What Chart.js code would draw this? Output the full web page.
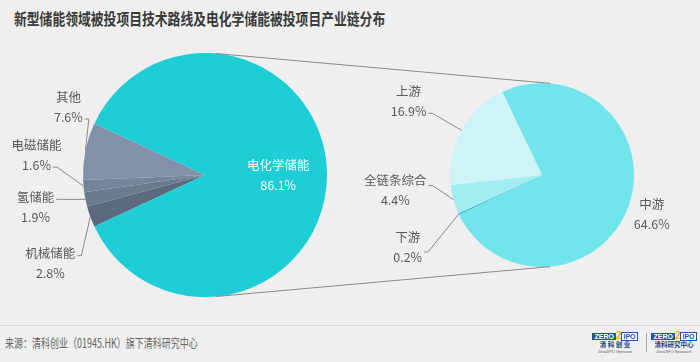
<!DOCTYPE html>
<html>
<head>
<meta charset="utf-8">
<script src="https://cdn.jsdelivr.net/npm/chart.js@4/dist/chart.umd.min.js"></script>
<style>
  body { margin: 0; background: #efefef; }
  #wrap { position: relative; width: 700px; height: 362px; overflow: hidden; background: #efefef;
          font-family: "Noto Sans CJK SC", "Noto Sans", sans-serif; }
  #title { position: absolute; left: 14px; top: 7px; font-size: 16px; line-height: 22px; font-weight: bold;
           color: #3a3a3a; white-space: nowrap; transform: scaleX(0.8); transform-origin: left center; }
  #sep { position: absolute; left: 0; top: 325px; width: 700px; height: 1px; background: #dadada; }
  #src { position: absolute; left: 5px; top: 334px; font-size: 12.5px; line-height: 18px; color: #666;
         white-space: nowrap; transform: scaleX(0.72); transform-origin: left center; }
  canvas { position: absolute; left: 0; top: 0; }
  .logo { position: absolute; top: 331px; width: 46px; text-align: center; font-family: "Liberation Sans", sans-serif; }
  .logo .top { height: 9px; white-space: nowrap; font-size: 7px; line-height: 9px; font-weight: bold; }
  .logo .z { background: #1f55a8; color: #fff; padding: 0 2px; }
  .logo .two { color: #f2b705; font-size: 10px; }
  .logo .ipo { color: #1f55a8; border: 1px solid #1f55a8; padding: 0 1px; background: #fff; }
  .logo .cn { font-family: "Noto Sans CJK SC", sans-serif; font-size: 6.5px; line-height: 9px; color: #1d3f7a; font-weight: bold; }
  .logo .en { font-size: 4px; line-height: 5px; color: #556; white-space: nowrap; }
  #div { position: absolute; left: 646px; top: 333px; width: 1px; height: 19px; background: #aaa; }
</style>
</head>
<body>
<div id="wrap">
  <div id="title">新型储能领域被投项目技术路线及电化学储能被投项目产业链分布</div>
  <div id="sep"></div>
  <div id="src">来源：清科创业（01945.HK）旗下清科研究中心</div>
  <div class="logo" style="left:592px">
    <div class="top"><span class="z">ZERO</span><span class="two">2</span><span class="ipo">IPO</span></div>
    <div class="cn">清&nbsp;科&nbsp;创&nbsp;业</div>
    <div class="en">Zero2IPO Ventures</div>
  </div>
  <div id="div"></div>
  <div class="logo" style="left:651px">
    <div class="top"><span class="z">ZERO</span><span class="two">2</span><span class="ipo">IPO</span></div>
    <div class="cn">清科研究中心</div>
    <div class="en">Zero2IPO Research</div>
  </div>
  <canvas id="techChart" width="700" height="362"></canvas>
  <canvas id="chainChart" width="700" height="362"></canvas>
</div>
<script>
// technology routes (share of all new-type storage deals, %)
var techLabels = ['机械储能', '氢储能', '电磁储能', '其他', '电化学储能'];
var techShares = [2.8, 1.9, 1.6, 7.6, 86.1];
var techColors = ['#5b6a7e', '#6a7a8f', '#75869c', '#8191aa', '#1fcdd7'];

// industry chain split of the electrochemical slice (% of all deals)
var chainLabels = ['中游', '下游', '全链条综合', '上游'];
var chainShares = [64.6, 0.2, 4.4, 16.9];
var chainColors = ['#72e4eb', '#2aa9b2', '#a2edf1', '#cdf4f6'];

var labelFont = '12.5px "Noto Sans CJK SC", "Noto Sans", sans-serif';
var labelColor = '#595959';
var lineColor = '#8a8a8a';

// label placement: offset of the label block from the slice's outer edge point
var techPlace = [
  { dx: -40, dy: 47, row: 0 },
  { dx: -50, dy: 8, row: 0 },
  { dx: -47, dy: -31, row: 1 },
  { dx: -17, dy: -44, row: 1 },
  { inside: 0.6, color: '#ffffff' }
];
var chainPlace = [
  { dx: 23, dy: 9 },
  { dx: -51, dy: 33, row: 0.65 },
  { dx: -58, dy: -9, row: 0.15 },
  { dx: -53, dy: -29, row: 1 }
];

var sliceLabels = {
  id: 'sliceLabels',
  afterDatasetsDraw: function(chart, args, opts) {
    var ctx = chart.ctx;
    var meta = chart.getDatasetMeta(0);
    var values = chart.data.datasets[0].data;
    ctx.save();
    ctx.font = labelFont;
    ctx.textAlign = 'center';
    ctx.textBaseline = 'middle';
    meta.data.forEach(function(arc, i) {
      var p = arc.getProps(['x', 'y', 'startAngle', 'endAngle', 'outerRadius'], true);
      var mid = (p.startAngle + p.endAngle) / 2;
      var place = opts.place[i];
      var name = chart.data.labels[i];
      var pct = values[i].toFixed(1) + '%';
      var cx, cy;
      if (place.inside) {
        cx = p.x + Math.cos(mid) * p.outerRadius * place.inside;
        cy = p.y + Math.sin(mid) * p.outerRadius * place.inside;
      } else {
        var ax = p.x + Math.cos(mid) * p.outerRadius;
        var ay = p.y + Math.sin(mid) * p.outerRadius;
        cx = ax + place.dx;
        cy = ay + place.dy;
        if (place.row !== undefined) {
          var w = place.row < 0.5 ? ctx.measureText(name).width : ctx.measureText(pct).width;
          var ex = cx + w / 2 + 2;
          var ey = cy - 10 + place.row * 20 + 2;
          ctx.strokeStyle = lineColor;
          ctx.lineWidth = 1;
          ctx.beginPath();
          ctx.moveTo(ax, ay);
          ctx.lineTo(ex + 4, ey);
          ctx.lineTo(ex, ey);
          ctx.stroke();
        }
      }
      ctx.fillStyle = place.color || labelColor;
      ctx.fillText(name, cx, cy - 10);
      ctx.fillText(pct, cx, cy + 10);
    });
    ctx.restore();
  }
};

// outer common tangents between the two pies
var connectors = {
  id: 'connectors',
  afterDatasetsDraw: function(chart) {
    var a = techChart.getDatasetMeta(0).data[0];
    var b = chart.getDatasetMeta(0).data[0];
    var x1 = a.x, y1 = a.y, r1 = a.outerRadius;
    var x2 = b.x, y2 = b.y, r2 = b.outerRadius;
    var d = Math.hypot(x2 - x1, y2 - y1);
    var base = Math.atan2(y2 - y1, x2 - x1);
    var phi = Math.acos((r1 - r2) / d);
    var ctx = chart.ctx;
    ctx.save();
    ctx.strokeStyle = lineColor;
    ctx.lineWidth = 1;
    [-1, 1].forEach(function(s) {
      var t = base + s * phi;
      ctx.beginPath();
      ctx.moveTo(x1 + r1 * Math.cos(t), y1 + r1 * Math.sin(t));
      ctx.lineTo(x2 + r2 * Math.cos(t), y2 + r2 * Math.sin(t));
      ctx.stroke();
    });
    ctx.restore();
  }
};

var otherTotal = 0;
for (var i = 0; i < techShares.length - 1; i++) otherTotal += techShares[i];

var techChart = new Chart(document.getElementById('techChart').getContext('2d'), {
  type: 'pie',
  data: {
    labels: techLabels,
    datasets: [{ data: techShares, backgroundColor: techColors, borderWidth: 0 }]
  },
  options: {
    responsive: false,
    animation: false,
    rotation: 270 - otherTotal / 100 * 360 / 2,
    layout: { padding: { left: 83, right: 373, top: 53, bottom: 65 } },
    plugins: {
      legend: { display: false },
      tooltip: { enabled: false },
      sliceLabels: { place: techPlace }
    }
  },
  plugins: [sliceLabels]
});

var chainChart = new Chart(document.getElementById('chainChart').getContext('2d'), {
  type: 'pie',
  data: {
    labels: chainLabels,
    datasets: [{ data: chainShares, backgroundColor: chainColors, borderWidth: 0 }]
  },
  options: {
    responsive: false,
    animation: false,
    rotation: -25.6,
    layout: { padding: { left: 450, right: 66, top: 83, bottom: 95 } },
    plugins: {
      legend: { display: false },
      tooltip: { enabled: false },
      sliceLabels: { place: chainPlace }
    }
  },
  plugins: [sliceLabels, connectors]
});
</script>
</body>
</html>
